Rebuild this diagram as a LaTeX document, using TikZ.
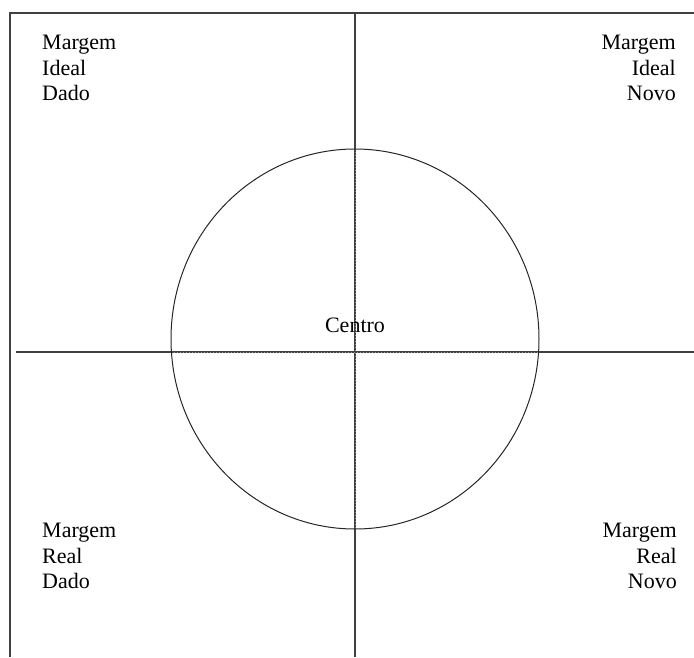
\documentclass[tikz,border=0pt]{standalone}
\usepackage{fontspec}
\setmainfont{Liberation Serif}
\usepackage{tikz}

\begin{document}
\begin{tikzpicture}[
    x=1pt, y=-1pt,
    rotulo/.style={font=\fontsize{22}{25.5}\selectfont, inner sep=0pt},
    eixo/.style={black!75, line width=1.3pt},
    guia/.style={black!40, line width=0.7pt, dash pattern=on 1pt off 2pt}
  ]
    \useasboundingbox (0,0) rectangle (694,657);
    % moldura e eixos
    \draw[eixo] (694,13) -- (10,13) -- (10,657);
    \draw[eixo] (355,13) -- (355,657);
    \draw[eixo] (16,352) -- (694,352);
    % circulo central
    \coordinate (c) at (355,339);
    \draw[guia] (171,352) -- (539,352);
    \draw[guia] (355,149) -- (355,529);
    \draw[black!85, line width=1pt] (c) ellipse [x radius=184, y radius=190];
    % rotulos
    \node[rotulo, align=left, anchor=north west] (idealdado) at (42,35) {Margem\\Ideal\\Dado};
    \node[rotulo, align=right, anchor=north east] (idealnovo) at (676,35) {Margem\\Ideal\\Novo};
    \node[rotulo, align=left, anchor=north west] (realdado) at (42,523) {Margem\\Real\\Dado};
    \node[rotulo, align=right, anchor=north east] (realnovo) at (677,523) {Margem\\Real\\Novo};
    \node[rotulo, anchor=base] (centro) at (355,332) {Centro};
\end{tikzpicture}
\end{document}
